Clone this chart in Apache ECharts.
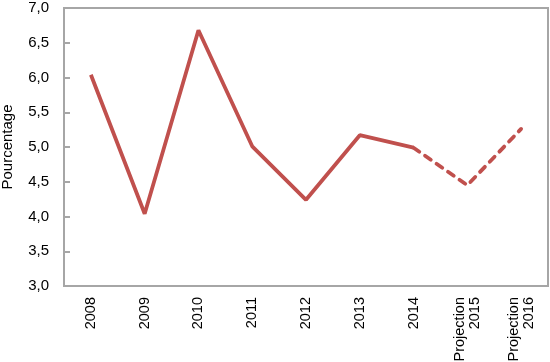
<!DOCTYPE html>
<html><head><meta charset="utf-8">
<script src="https://cdn.jsdelivr.net/npm/echarts@6/dist/echarts.min.js"></script>
<style>html,body{margin:0;padding:0;background:#fff}#c{width:550px;height:362px}</style>
</head><body><div id="c"></div>
<script>
var categories = ['2008','2009','2010','2011','2012','2013','2014','Projection\n2015','Projection\n2016'];
var actual = [6.04, 4.04, 6.68, 5.01, 4.24, 5.17, 4.99, null, null];
var projection = [null, null, null, null, null, null, 4.99, 4.45, 5.26];
var yTicks = [3.0, 3.5, 4.0, 4.5, 5.0, 5.5, 6.0, 6.5, 7.0];

var FONT = "'Liberation Sans', Arial, sans-serif";
var AX = '#A6A6A6';
var RED = '#C0504D';
var chart = echarts.init(document.getElementById('c'));
chart.setOption({
  animation: false,
  grid: {left: 64, right: 2, top: 8, bottom: 76, show: true, borderColor: AX, borderWidth: 2, outerBoundsMode: 'none', containLabel: false},
  xAxis: {
    type: 'category', data: categories, boundaryGap: true,
    axisLine: {lineStyle: {color: AX, width: 2}},
    axisTick: {inside: true, length: 6, lineStyle: {color: AX, width: 2}},
    axisLabel: {rotate: 90, color: '#000', fontFamily: FONT, fontSize: 14.5, margin: 11, lineHeight: 15}
  },
  yAxis: {
    type: 'value', min: yTicks[0], max: yTicks[yTicks.length-1], interval: 0.5,
    name: 'Pourcentage', nameLocation: 'middle', nameGap: 49,
    nameTextStyle: {color: '#000', fontFamily: FONT, fontSize: 15},
    splitLine: {show: false},
    axisLine: {show: true, lineStyle: {color: AX, width: 2}},
    axisTick: {show: true, inside: true, length: 6, lineStyle: {color: AX, width: 2}},
    axisLabel: {color: '#000', fontFamily: FONT, fontSize: 15, margin: 15,
      formatter: function(v){ return v.toFixed(1).replace('.', ','); }}
  },
  series: [
    {type: 'line', data: actual, symbol: 'none', lineStyle: {color: RED, width: 3.8}},
    {type: 'line', data: projection, symbol: 'none', lineStyle: {color: RED, width: 3.8, type: [7, 7], cap: 'round'}}
  ]
});
</script></body></html>
